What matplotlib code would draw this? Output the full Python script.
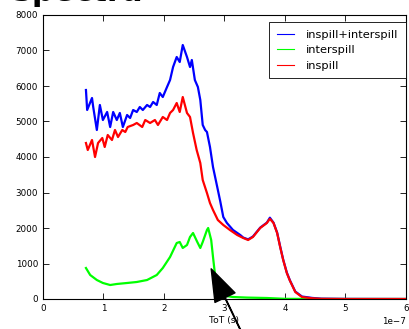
import matplotlib
matplotlib.use('Agg')
import matplotlib.pyplot as plt
import numpy as np

# ToT values in units of 1e-7 s, counts
tot_all = [0.71, 0.73, 0.81, 0.83, 0.89, 0.94, 0.99, 1.06, 1.11, 1.16, 1.22, 1.27, 1.32,
           1.39, 1.44, 1.49, 1.55, 1.60, 1.65, 1.72, 1.77, 1.82, 1.88, 1.93, 1.98, 2.05,
           2.10, 2.15, 2.21, 2.26, 2.31, 2.38, 2.43, 2.46, 2.51, 2.56, 2.60, 2.64, 2.68,
           2.71, 2.76, 2.81, 2.88, 2.93, 2.98, 3.04, 3.14, 3.26, 3.31, 3.39, 3.47, 3.59,
           3.70, 3.75, 3.81, 3.87, 3.92, 3.97, 4.03, 4.08, 4.17, 4.28, 4.45, 4.60, 5.00, 6.00]
counts_all = [5887, 5324, 5662, 5408, 4761, 5465, 5042, 5268, 4845, 5268, 5042, 5240, 4845,
              5183, 5099, 5324, 5268, 5409, 5324, 5465, 5409, 5550, 5465, 5803, 5690, 5972,
              6169, 6535, 6817, 6676, 7155, 6817, 6535, 6732, 6169, 5972, 5606, 4902, 4760,
              4704, 4282, 3718, 3155, 2750, 2310, 2141, 1944, 1803, 1730, 1680, 1760, 2010,
              2150, 2290, 2150, 1870, 1480, 1110, 745, 530, 210, 70, 30, 10, 3, 0]

tot_inter = [0.71, 0.78, 0.89, 0.99, 1.11, 1.22, 1.39, 1.55, 1.72, 1.88, 1.98, 2.10, 2.21,
             2.26, 2.31, 2.38, 2.43, 2.48, 2.55, 2.60, 2.64, 2.71, 2.73, 2.78, 2.81, 2.84,
             2.90, 3.00, 3.14, 3.37, 3.70, 4.00, 4.50, 6.00]
counts_inter = [873, 676, 535, 451, 394, 423, 451, 479, 535, 676, 873, 1183, 1577,
                1606, 1437, 1521, 1747, 1859, 1606, 1437, 1606, 1944, 2000, 1662, 1183, 732,
                250, 90, 56, 40, 28, 5, 0, 0]

tot_in = [0.71, 0.74, 0.81, 0.86, 0.91, 0.98, 1.02, 1.07, 1.14, 1.19, 1.24, 1.31, 1.36,
          1.40, 1.49, 1.55, 1.64, 1.69, 1.77, 1.85, 1.90, 1.98, 2.05, 2.10, 2.15, 2.21,
          2.26, 2.31, 2.38, 2.43, 2.48, 2.54, 2.60, 2.64, 2.71, 2.76, 2.81, 2.89, 2.98,
          3.09, 3.21, 3.31, 3.39, 3.47, 3.59, 3.70, 3.75, 3.81, 3.87, 3.92, 3.97, 4.03,
          4.08, 4.17, 4.28, 4.45, 4.60, 5.00, 6.00]
counts_in = [4394, 4197, 4479, 4000, 4394, 4535, 4282, 4620, 4479, 4761, 4563, 4761, 4704,
             4845, 4902, 4958, 4845, 5042, 4958, 5042, 4902, 5127, 5042, 5240, 5324, 5521,
             5268, 5690, 5240, 5127, 4676, 4197, 3831, 3352, 2986, 2704, 2507, 2225, 2085,
             1944, 1803, 1718, 1662, 1747, 2000, 2141, 2260, 2141, 1859, 1465, 1099, 732,
             520, 197, 56, 20, 5, 0, 0]

plt.rcParams['xtick.direction'] = 'in'
plt.rcParams['ytick.direction'] = 'in'
plt.rcParams['xtick.top'] = True
plt.rcParams['ytick.right'] = True

fig = plt.figure(figsize=(4.10, 3.29), dpi=100)
ax = fig.add_axes([43 / 410, 1 - 299 / 329, 363 / 410, 284 / 329])

ax.plot(np.array(tot_all) * 1e-7, counts_all, color='blue', lw=1.6, label='inspill+interspill')
ax.plot(np.array(tot_inter) * 1e-7, counts_inter, color='#00ff00', lw=1.6, label='interspill')
ax.plot(np.array(tot_in) * 1e-7, counts_in, color='red', lw=1.6, label='inspill')

ax.set_xlim(0, 6e-7)
ax.set_ylim(0, 8000)
ax.tick_params(labelsize=6.3, length=4, width=0.6)
ax.xaxis.get_offset_text().set_fontsize(6.3)
ax.set_xlabel('ToT (s)', fontsize=6.6, labelpad=2)
for s in ax.spines.values():
    s.set_linewidth(0.8)

leg = ax.legend(loc='upper right', bbox_to_anchor=(1.0, 0.975), borderaxespad=0,
                fontsize=8.2, handlelength=1.5, handletextpad=1.1, borderpad=0.65,
                labelspacing=0.5, fancybox=False, framealpha=1, edgecolor='black')
leg.get_frame().set_linewidth(0.6)
for h in leg.get_lines():
    h.set_linewidth(0.8)

# arrow pointing at the interspill drop
ax.annotate('', xy=(2.78e-7, 850), xytext=(3.3e-7, -1000), annotation_clip=False,
            arrowprops=dict(facecolor='black', edgecolor='black', width=0.4,
                            headwidth=16, headlength=23, shrink=0))

# title, mostly cropped off the top
fig.text(0.027, 1 - 1.0 / 329, 'Spectra', fontsize=22, fontweight='bold',
         va='baseline', ha='left')

fig.savefig('out.png', dpi=100)
